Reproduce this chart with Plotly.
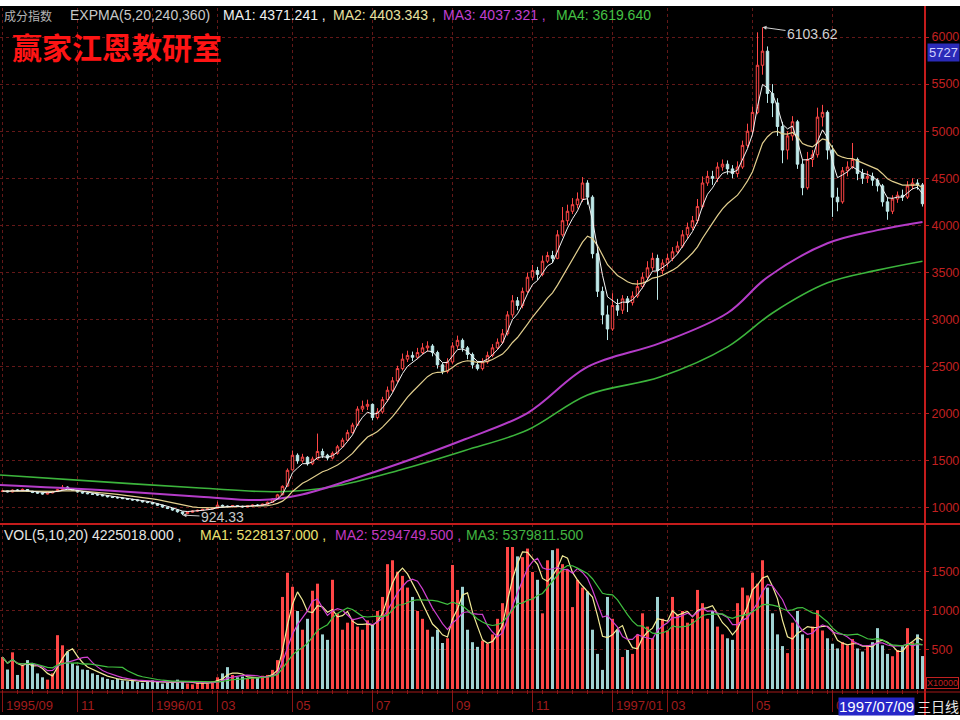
import pandas as pd
import plotly.graph_objects as go

# ---------------- data ----------------
open_ = [1175,1182,1170,1192,1184,1196,1178,1166,1160,1148,
         1160,1174,1196,1222,1206,1190,1168,1158,1150,1146,
         1136,1130,1118,1110,1106,1100,1090,1086,1078,1064,
         1056,1044,1030,1008,996,978,958,940,955,966,
         974,986,990,998,1028,1020,1014,1024,1018,1012,
         1020,1030,1028,1040,1060,1096,1140,1232,1405,1560,
         1500,1538,1470,1520,1600,1560,1530,1580,1650,1720,
         1800,1880,2050,2080,2100,1960,2020,2150,2250,2350,
         2480,2580,2620,2600,2650,2700,2720,2650,2520,2450,
         2550,2720,2780,2700,2630,2520,2480,2550,2620,2700,
         2760,2850,3050,3200,3150,3300,3450,3520,3480,3620,
         3680,3650,3900,4050,4150,4220,4280,4450,4300,3700,
         3300,3050,2900,3150,3100,3220,3180,3250,3350,3450,
         3550,3650,3520,3600,3650,3720,3780,3900,3980,4050,
         4200,4450,4520,4500,4620,4650,4600,4550,4620,4850,
         5000,5200,5700,5850,5400,5300,5050,4800,4950,5100,
         4650,4400,4700,4750,5150,5200,4800,4300,4250,4580,
         4620,4700,4550,4500,4520,4480,4420,4250,4150,4280,
         4320,4300,4420,4450,4430]
high = [1192,1188,1198,1200,1206,1200,1182,1170,1163,1168,
        1182,1202,1244,1230,1210,1194,1175,1166,1158,1150,
        1145,1134,1125,1120,1112,1104,1098,1090,1082,1072,
        1060,1050,1034,1015,1000,982,962,962,975,982,
        992,998,1006,1067,1036,1026,1032,1030,1024,1028,
        1038,1040,1046,1068,1102,1150,1240,1420,1610,1580,
        1575,1550,1545,1790,1630,1575,1600,1670,1745,1830,
        1905,2080,2140,2150,2110,2060,2180,2290,2390,2510,
        2640,2670,2660,2700,2750,2770,2740,2670,2540,2590,
        2760,2830,2800,2720,2650,2560,2590,2660,2740,2800,
        2900,3090,3260,3240,3340,3500,3580,3560,3680,3720,
        3730,3950,4195,4220,4290,4350,4513,4480,4320,3750,
        3350,3150,3280,3220,3260,3250,3300,3420,3500,3620,
        3710,3690,3640,3700,3770,3830,3950,4030,4100,4280,
        4520,4580,4580,4670,4700,4690,4640,4680,4900,5080,
        5260,6050,6103.62,5900,5500,5350,5100,5000,5160,5120,
        4700,4780,4800,5250,5280,5220,4850,4400,4620,4680,
        4875,4720,4600,4580,4560,4500,4440,4300,4320,4360,
        4380,4470,4500,4490,4450]
low = [1168,1165,1166,1178,1180,1170,1158,1150,1142,1144,
       1156,1170,1192,1198,1180,1164,1152,1146,1138,1130,
       1124,1112,1105,1100,1094,1085,1078,1070,1058,1050,
       1038,1022,1002,988,970,950,924.33,934,950,960,
       968,978,984,994,1010,1006,1008,1010,1004,1006,
       1014,1018,1022,1036,1056,1090,1135,1225,1398,1470,
       1480,1450,1455,1510,1530,1505,1515,1565,1640,1705,
       1790,1870,2020,2040,1930,1940,2000,2130,2230,2330,
       2460,2550,2560,2580,2630,2660,2610,2480,2420,2430,
       2530,2690,2660,2580,2480,2460,2460,2530,2600,2680,
       2740,2830,3020,3100,3120,3280,3420,3420,3460,3600,
       3600,3640,3880,4000,4120,4180,4250,4220,3650,3240,
       2950,2783,2880,3040,3060,3080,3150,3230,3330,3420,
       3520,3210,3480,3560,3620,3700,3760,3860,3950,4020,
       4180,4420,4430,4460,4580,4540,4500,4510,4600,4820,
       4980,5180,5600,5300,5150,4950,4660,4700,4900,4600,
       4320,4380,4620,4720,5050,4700,4090,4150,4230,4520,
       4600,4480,4440,4450,4420,4360,4200,4060,4120,4240,
       4260,4280,4380,4380,4200]
close_ = [1180,1172,1190,1185,1198,1176,1165,1158,1150,1162,
          1175,1195,1220,1205,1188,1170,1160,1152,1145,1138,
          1130,1120,1112,1108,1100,1092,1085,1078,1065,1058,
          1045,1030,1010,995,978,960,940,955,968,975,
          985,990,998,1030,1020,1015,1025,1018,1012,1022,
          1030,1028,1040,1060,1095,1140,1230,1400,1560,1500,
          1540,1470,1520,1600,1560,1530,1580,1650,1720,1800,
          1880,2050,2080,2100,1960,2020,2150,2250,2350,2480,
          2580,2620,2600,2650,2700,2720,2650,2520,2450,2550,
          2720,2780,2700,2630,2520,2480,2550,2620,2700,2760,
          2850,3050,3200,3150,3300,3450,3520,3480,3620,3680,
          3650,3900,4050,4150,4220,4280,4450,4300,3700,3300,
          3050,2900,3150,3100,3220,3180,3250,3350,3450,3550,
          3650,3520,3600,3650,3720,3780,3900,3980,4050,4200,
          4450,4520,4500,4620,4650,4600,4550,4620,4850,5000,
          5200,5700,5850,5400,5300,5050,4800,4950,5100,4650,
          4400,4700,4750,5150,5200,4800,4300,4250,4580,4620,
          4700,4550,4500,4520,4480,4420,4250,4150,4280,4320,
          4300,4420,4450,4430,4230]
# volume, unit x10000
volume = [410,250,470,180,300,370,330,200,150,120,
          200,690,560,480,330,300,250,245,200,180,
          150,130,115,130,110,100,120,90,80,100,
          110,90,70,80,100,120,90,70,60,80,
          90,70,100,150,200,280,180,150,160,130,
          150,140,170,180,245,370,1180,1490,1310,1000,
          760,900,1260,1350,700,630,1400,970,760,850,
          900,800,760,880,820,1000,1180,1600,1650,1500,
          1450,1300,1180,1000,900,760,670,760,590,650,
          1590,1270,1310,760,600,540,620,580,700,900,
          1100,1820,1820,1700,1690,1800,1500,1400,970,1650,
          1780,1800,1600,1530,1050,1400,1300,1250,760,450,
          245,1180,900,760,410,500,450,700,970,800,
          650,1180,900,750,1180,950,1000,850,900,1270,
          1100,900,1000,800,700,650,630,1100,1300,1200,
          1490,1350,1650,1300,970,700,550,460,850,1000,
          700,650,800,1010,750,650,580,520,600,560,
          640,520,480,560,600,780,560,450,420,500,
          560,780,600,700,422.5]

# long EXPMA lines (bar position, value)
ma3_pos = [-0.5, 19.5, 39.5, 51.5, 59.5, 69.5, 79.5, 92.5, 105, 117, 131.5, 145, 153, 165, 175, 184]
ma3_val = [1244, 1191, 1120, 1085, 1138, 1297, 1475, 1730, 2008, 2497, 2750, 3070, 3450, 3810, 3950, 4037]
ma4_pos = [-0.5, 19.5, 39.5, 55, 66, 79.5, 92.5, 105, 117, 131.5, 145, 154, 165, 175, 184]
ma4_val = [1350, 1280, 1212, 1173, 1226, 1403, 1610, 1828, 2200, 2390, 2710, 3070, 3390, 3525, 3620]

EMA_SPANS = [4, 14]          # short EXPMA lines (scaled to this bar count)
VOL_MA = [4, 7, 14]

month_pos = [0, 15, 30, 43, 58, 74, 90, 106, 122, 133, 150, 166]
month_txt = ["1995/09", "11", "1996/01", "03", "05", "07", "09", "11", "1997/01", "03", "05", "07"]
price_ticks = [1000, 1500, 2000, 2500, 3000, 3500, 4000, 4500, 5000, 5500, 6000]
vol_ticks = [500, 1000, 1500]

# ---------------- figure ----------------
W, H = 960, 720
def px(x): return x / W
def py(y): return 1 - y / H

n = len(close_)
xs = list(range(n))
sc = pd.Series(close_)
ma1 = sc.ewm(span=EMA_SPANS[0], adjust=False).mean()
ma2 = sc.ewm(span=EMA_SPANS[1], adjust=False).mean()
sv = pd.Series(volume)
vmas = [sv.rolling(k, min_periods=1).mean() for k in VOL_MA]

RED = "#ff4646"
CYAN = "#bfe9e9"
GRID = "#641818"
AXR = "#b41e1e"

fig = go.Figure()
fig.add_trace(go.Scatter(x=ma4_pos, y=ma4_val, mode="lines", line=dict(color="#3cb43c", width=1.6, shape="spline"), xaxis="x", yaxis="y"))
fig.add_trace(go.Scatter(x=ma3_pos, y=ma3_val, mode="lines", line=dict(color="#b43cc8", width=2, shape="spline"), xaxis="x", yaxis="y"))
fig.add_trace(go.Candlestick(x=xs, open=open_, high=high, low=low, close=close_,
                             increasing=dict(line=dict(color=RED, width=1), fillcolor="#000000"),
                             decreasing=dict(line=dict(color=CYAN, width=1), fillcolor=CYAN),
                             whiskerwidth=0, xaxis="x", yaxis="y"))
fig.add_trace(go.Scatter(x=xs, y=ma2, mode="lines", line=dict(color="#e2cf8e", width=1.2), xaxis="x", yaxis="y"))
fig.add_trace(go.Scatter(x=xs, y=ma1, mode="lines", line=dict(color="#f4f4f4", width=1), xaxis="x", yaxis="y"))

vcol = [RED if c >= o else "#9fd2d2" for o, c in zip(open_, close_)]
fig.add_trace(go.Bar(x=xs, y=volume, marker=dict(color=vcol, line=dict(width=0)), width=0.6, xaxis="x", yaxis="y2"))
for m, col in zip(vmas, ["#f2ea96", "#d040d0", "#40c040"]):
    fig.add_trace(go.Scatter(x=xs, y=m, mode="lines", line=dict(color=col, width=1.2), xaxis="x", yaxis="y2"))

anns = []
def txt(t, x, y, color, size, font="Liberation Sans", **kw):
    d = dict(text=t, x=px(x), y=py(y), xref="paper", yref="paper", xanchor="left", yanchor="middle",
             showarrow=False, font=dict(family=font, size=size, color=color))
    d.update(kw)
    anns.append(d)

txt("成分指数", 2, 15, "#b4b4b4", 12, font="Noto Sans CJK SC")
txt("EXPMA(5,20,240,360)", 68, 15, "#c8c8c8", 14)
txt("MA1: 4371.241 ,", 221, 15, "#f0f0f0", 14)
txt("MA2: 4403.343 ,", 331, 15, "#e8e0a0", 14)
txt("MA3: 4037.321 ,", 441, 15, "#c040d0", 14)
txt("MA4: 3619.640", 554, 15, "#44c044", 14)
txt("<b>赢家江恩教研室</b>", 10, 46, "#ff1414", 30, font="Noto Sans CJK SC")

txt("VOL(5,10,20) 4225018.000 ,", 2, 535, "#e6e6e6", 14)
txt("MA1: 5228137.000 ,", 198, 535, "#ece070", 14)
txt("MA2: 5294749.500 ,", 333, 535, "#c038c0", 14)
txt("MA3: 5379811.500", 464, 535, "#40b440", 14)

for p, t in zip(month_pos, month_txt):
    txt(t, (p + 0.5) * 5 + 1, 705, "#a01c1c", 13)

txt("1997/07/09", 838, 706, "#ffffff", 15, bgcolor="#2626c8", borderpad=0)
txt("三日线", 915, 706, "#e8e8e8", 14, font="Noto Sans CJK SC")
txt("5727", 927, 53, "#d0d0ff", 13, bgcolor="#2a2ab8", borderpad=1)
txt("X10000", 926, 683, "#c02020", 9, bordercolor="#c02020", borderwidth=1, borderpad=0)

imax = high.index(max(high))
imin = low.index(min(low))
anns.append(dict(x=imax, y=high[imax], xref="x", yref="y", text="%.2f" % high[imax],
                 showarrow=True, arrowhead=2, arrowsize=0.8, arrowwidth=1, arrowcolor="#d0d0d0",
                 ax=50, ay=7, font=dict(family="Liberation Sans", size=14, color="#d0d0d0")))
anns.append(dict(x=imin, y=low[imin], xref="x", yref="y", text="%.2f" % low[imin],
                 showarrow=True, arrowhead=2, arrowsize=0.8, arrowwidth=1, arrowcolor="#c8c8c8",
                 ax=40, ay=2, font=dict(family="Liberation Sans", size=14, color="#c8c8c8")))

shapes = [
    dict(type="rect", xref="paper", yref="paper", x0=0, x1=1, y0=py(6), y1=1, fillcolor="white", line=dict(width=0), layer="above"),
    dict(type="rect", xref="paper", yref="paper", x0=0, x1=1, y0=0, y1=py(715), fillcolor="white", line=dict(width=0), layer="above"),
    dict(type="line", xref="paper", yref="paper", x0=0, x1=1, y0=py(524), y1=py(524), line=dict(color="#c41c1c", width=2)),
    dict(type="line", xref="paper", yref="paper", x0=px(925), x1=px(925), y0=py(715), y1=py(6), line=dict(color="#c41c1c", width=2)),
    dict(type="line", xref="paper", yref="paper", x0=0, x1=1, y0=py(692), y1=py(692), line=dict(color="#a41818", width=1)),
]

fig.update_layout(
    width=W, height=H, autosize=False, margin=dict(l=0, r=0, t=0, b=0),
    paper_bgcolor="#000000", plot_bgcolor="#000000", showlegend=False,
    font=dict(family="Liberation Sans", color="#c02020"),
    xaxis=dict(domain=[0, px(925)], range=[-0.5, n - 0.5], anchor="y2",
               tickmode="array", tickvals=month_pos, showticklabels=False,
               ticks="outside", ticklen=22, tickcolor="#8c1414",
               showgrid=True, gridcolor=GRID, griddash="dot", gridwidth=1,
               showline=False, zeroline=False, rangeslider=dict(visible=False),
               minor=dict(tickmode="linear", tick0=0, dtick=3, ticks="outside", ticklen=4,
                          tickcolor="#8c1414", showgrid=False)),
    yaxis=dict(domain=[py(524), py(8)], range=[830, 6308], side="right", anchor="x",
               tickmode="array", tickvals=price_ticks, ticks="outside", ticklen=3, tickcolor=AXR,
               tickfont=dict(size=12.5, color="#c22020"), showgrid=True, gridcolor=GRID, griddash="dot",
               zeroline=False, showline=False),
    yaxis2=dict(domain=[py(689), py(524)], range=[0, 2115], side="right", anchor="x",
                tickmode="array", tickvals=vol_ticks, ticks="outside", ticklen=3, tickcolor=AXR,
                tickfont=dict(size=12.5, color="#c22020"), showgrid=True, gridcolor=GRID, griddash="dot",
                zeroline=False, showline=False),
    annotations=anns, shapes=shapes, bargap=0.3,
)

post = ("document.documentElement.style.overflow='hidden';"
        "document.body.style.margin='0px';document.body.style.overflow='hidden';")
fig.write_html("out.html", config={"displayModeBar": False, "responsive": False}, post_script=post)
